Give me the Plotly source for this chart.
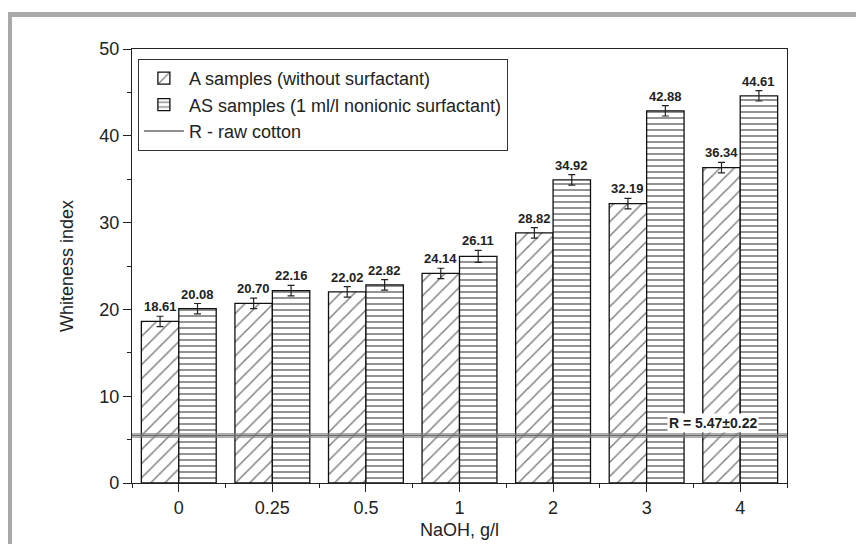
import plotly.graph_objects as go

categories = ["0", "0.25", "0.5", "1", "2", "3", "4"]
a_values = [18.61, 20.70, 22.02, 24.14, 28.82, 32.19, 36.34]
a_errors = [0.6, 0.6, 0.6, 0.6, 0.6, 0.6, 0.6]
as_values = [20.08, 22.16, 22.82, 26.11, 34.92, 42.88, 44.61]
as_errors = [0.6, 0.6, 0.6, 0.7, 0.6, 0.6, 0.6]
r_value = 5.47
r_error = 0.22

FONT = "Arial, Liberation Sans, sans-serif"
pos = list(range(len(categories)))
bw = 0.4

fig = go.Figure()
fig.add_trace(go.Bar(
    x=[p - bw / 2 for p in pos], y=a_values, width=bw,
    name="A samples (without surfactant)",
    marker=dict(color="white", line=dict(color="#111", width=1.3),
                pattern=dict(shape="/", fgcolor="#000", bgcolor="white", size=10, solidity=0.15)),
    error_y=dict(type="data", array=a_errors, color="#222", thickness=1.2, width=3.5),
))
fig.add_trace(go.Bar(
    x=[p + bw / 2 for p in pos], y=as_values, width=bw,
    name="AS samples (1 ml/l nonionic surfactant)",
    marker=dict(color="white", line=dict(color="#111", width=1.3),
                pattern=dict(shape="-", fgcolor="#000", bgcolor="white", size=6, solidity=0.28)),
    error_y=dict(type="data", array=as_errors, color="#222", thickness=1.2, width=3.5),
))
xr = [-0.5, 6.5]
fig.add_trace(go.Scatter(x=xr, y=[r_value - r_error] * 2, mode="lines",
                         line=dict(width=1, color="rgba(120,120,120,0.6)"), showlegend=False, hoverinfo="skip"))
fig.add_trace(go.Scatter(x=xr, y=[r_value + r_error] * 2, mode="lines", fill="tonexty",
                         fillcolor="rgba(150,150,150,0.45)",
                         line=dict(width=1, color="rgba(120,120,120,0.6)"), showlegend=False, hoverinfo="skip"))
fig.add_trace(go.Scatter(x=xr, y=[r_value] * 2, mode="lines", name="R - raw cotton",
                         line=dict(color="#6a6a6a", width=1.5)))

for p, v, e in zip(pos, a_values, a_errors):
    fig.add_annotation(x=p - bw / 2, y=v + e, text=f"<b>{v:.2f}</b>", showarrow=False,
                       yanchor="bottom", yshift=0, font=dict(size=13, family=FONT, color="#222"))
for p, v, e in zip(pos, as_values, as_errors):
    fig.add_annotation(x=p + bw / 2, y=v + e, text=f"<b>{v:.2f}</b>", showarrow=False,
                       yanchor="bottom", yshift=0, font=dict(size=13, family=FONT, color="#222"))

fig.add_annotation(x=6.2, y=6.9, text=f"<b>R = {r_value:.2f}±{r_error:.2f}</b>", showarrow=False,
                   xanchor="right", bgcolor="white", font=dict(size=14, family=FONT, color="#222"))

# gray page frame
fig.add_shape(type="rect", xref="paper", yref="paper", x0=-0.1908, x1=1.12, y0=1.0737, y1=1.0853,
              fillcolor="#a9a9ab", line=dict(width=0), layer="above")
fig.add_shape(type="rect", xref="paper", yref="paper", x0=-0.1908, x1=-0.1832, y0=-0.16, y1=1.0853,
              fillcolor="#a9a9ab", line=dict(width=0), layer="above")

fig.update_layout(
    width=856, height=536,
    margin=dict(l=124, r=77, t=41, b=61),
    paper_bgcolor="white", plot_bgcolor="white",
    barmode="overlay",
    font=dict(family=FONT, size=18, color="#222"),
    showlegend=True,
    legend=dict(x=0.009, y=0.977, xanchor="left", yanchor="top", traceorder="normal",
                bordercolor="#333", borderwidth=1, bgcolor="white",
                font=dict(size=18, family=FONT), tracegroupgap=0, itemwidth=40),
    xaxis=dict(range=xr, tickmode="array", tickvals=pos, ticktext=categories,
               showgrid=False, zeroline=False, showline=True, linecolor="#222", linewidth=1.2,
               mirror=True, ticks="outside", ticklen=8, tickcolor="#222",
               minor=dict(dtick=0.5, tick0=-0.5, ticks="outside", ticklen=4, tickcolor="#222"),
               title=dict(text="NaOH, g/l", font=dict(size=18), standoff=6),
               tickfont=dict(size=18), automargin=False),
    yaxis=dict(range=[0, 50], dtick=10, showgrid=False, zeroline=False, showline=True,
               linecolor="#222", linewidth=1.2, mirror=True, ticks="outside", ticklen=8,
               tickcolor="#222",
               minor=dict(dtick=5, ticks="outside", ticklen=4, tickcolor="#222"),
               title=dict(text="Whiteness index", font=dict(size=18), standoff=20),
               tickfont=dict(size=18), automargin=False),
)

fig.write_html("out.html")
